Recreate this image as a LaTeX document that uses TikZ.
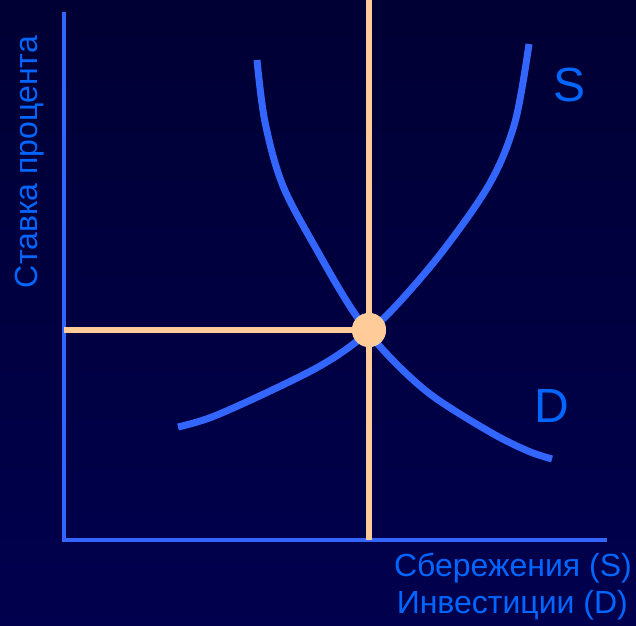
\documentclass[tikz,border=0pt]{standalone}
\usepackage{fontspec}
\setmainfont{Liberation Sans}
\definecolor{bgtop}{RGB}{0,0,52}
\definecolor{bgbot}{RGB}{0,0,78}
\definecolor{axisblue}{RGB}{51,102,255}
\definecolor{curveblue}{RGB}{51,102,255}
\definecolor{txtblue}{RGB}{0,102,255}
\definecolor{peach}{RGB}{255,204,153}
\begin{document}
\begin{tikzpicture}[x=1pt,y=-1pt,
  axisline/.style={draw=axisblue,line width=4pt},
  curve/.style={draw=curveblue,line width=7pt},
  guide/.style={draw=peach,line width=6pt},
  lbl/.style={text=txtblue,font=\fontsize{32}{36}\selectfont,inner sep=0pt},
  biglbl/.style={text=txtblue,font=\fontsize{48}{52}\selectfont,inner sep=0pt}]
\useasboundingbox (0,0) rectangle (636,625);
\shade[top color=bgtop,bottom color=bgbot] (0,0) rectangle (636,625);
% axes
\coordinate (O) at (64,540);
\coordinate (Ytop) at (64,12);
\coordinate (Xend) at (607,540);
\draw[axisline] (Ytop) -- (O) -- (Xend);
% curves
\draw[curve] plot[smooth,tension=0.55] coordinates {(257,60) (265,122) (283,186) (318,252) (353,311) (385,352) (430,394) (490,432) (528,451) (552,459)};
\draw[curve] plot[smooth,tension=0.55] coordinates {(178,427) (212,417) (268,392) (320,366) (356,342) (392,310) (442,252) (490,183) (515,122) (529,44)};
% guides
\coordinate (Vtop) at (369,0);
\coordinate (Vbot) at (369,540);
\coordinate (Hl) at (64,330);
\node[circle,fill=peach,minimum size=34pt,inner sep=0pt] (E) at (369,330) {};
\draw[guide] (Vtop) -- (E) -- (Vbot);
\draw[guide] (Hl) -- (E);
\node[circle,fill=peach,minimum size=34pt,inner sep=0pt] at (E) {};
% labels
\node[biglbl] (S) at (569,85) {S};
\node[biglbl] (D) at (552,406) {D};
\node[lbl,rotate=90] (yl) at (30,162) {Ставка процента};
\node[lbl,anchor=east] (x1) at (632,568) {Сбережения (S)};
\node[lbl,anchor=east] (x2) at (628,605) {Инвестиции (D)};
\end{tikzpicture}
\end{document}
